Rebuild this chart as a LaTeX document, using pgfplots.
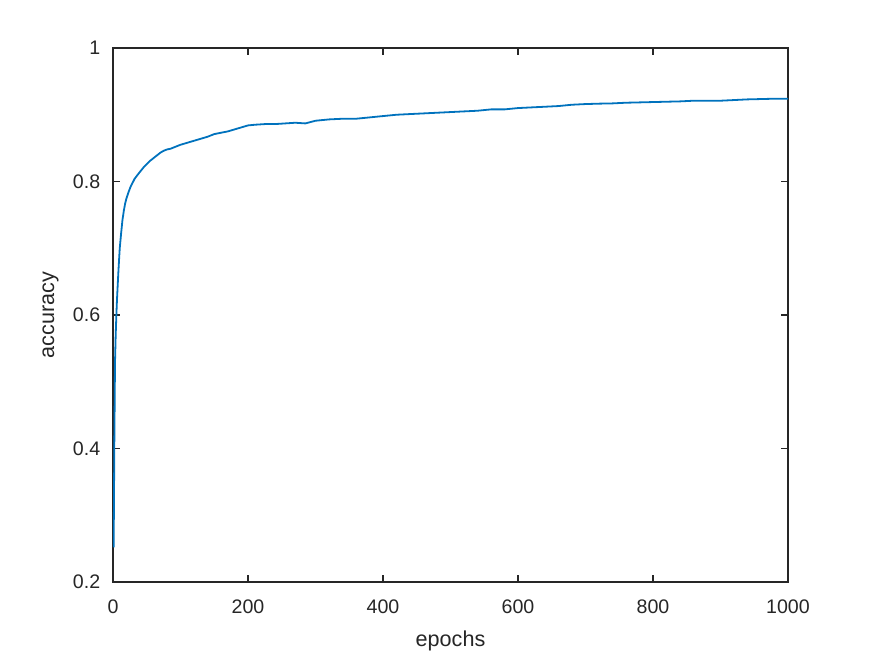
\documentclass[border=0pt]{standalone}
\usepackage{pgfplots}
\pgfplotsset{compat=1.18}
\usepackage{fontspec}
\setmainfont{Liberation Sans}
\definecolor{axgray}{HTML}{262626}
\definecolor{mblue}{HTML}{0072BD}
\begin{document}
\begin{tikzpicture}[font=\fontsize{9.8bp}{11.8bp}\selectfont]
\begin{axis}[
  name=ax,
  scale only axis,
  width=337.5bp, height=267bp,
  xmin=0, xmax=1000, ymin=0.2, ymax=1,
  xtick={0,200,...,1000},
  ytick={0.2,0.4,0.6,0.8,1},
  yticklabels={0.2,0.4,0.6,0.8,1},
  /pgf/number format/1000 sep={},
  /pgf/number format/assume math mode=true,
  tick align=inside,
  major tick length=3.4bp,
  axis line style={axgray, line width=0.8bp},
  every tick/.style={axgray, line width=0.8bp},
  tick label style={text=axgray},
  xticklabel style={yshift=-5.2bp},
  yticklabel style={xshift=-2.9bp},
  label style={text=axgray, font=\fontsize{10.8bp}{13bp}\selectfont},
  xlabel={epochs},
  ylabel={accuracy},
  xlabel style={at={(axis description cs:0.5,-0.0775)}, anchor=north},
  ylabel style={at={(axis description cs:-0.0702,0.5)}, rotate=0, anchor=south},
  clip=true,
]
\addplot[mblue, line width=0.9bp, mark=none] coordinates {
(1,0.252) (2,0.41) (3,0.53) (4,0.57) (5,0.60) (6,0.625) (7,0.645) (8,0.665)
(9,0.683) (10,0.70) (12,0.722) (14,0.742) (16,0.756) (18,0.767) (20,0.775)
(23,0.784) (26,0.792) (29,0.798) (32,0.804) (35,0.808) (38,0.812) (42,0.817)
(46,0.822) (50,0.826) (55,0.831) (60,0.835) (65,0.839) (70,0.843) (75,0.846)
(80,0.848) (85,0.849) (90,0.851) (95,0.853) (100,0.855) (110,0.858) (120,0.861)
(130,0.864) (140,0.867) (150,0.871) (160,0.873) (170,0.875) (180,0.878)
(190,0.881) (200,0.884) (210,0.885) (225,0.886) (240,0.886) (255,0.887)
(270,0.888) (285,0.887) (300,0.891) (320,0.893) (340,0.894) (360,0.894)
(380,0.896) (400,0.898) (420,0.900) (440,0.901) (460,0.902) (480,0.903)
(500,0.904) (520,0.905) (540,0.906) (560,0.908) (580,0.908) (600,0.910)
(620,0.911) (640,0.912) (660,0.913) (680,0.915) (700,0.916) (720,0.9166)
(740,0.917) (760,0.918) (780,0.9185) (800,0.919) (820,0.9195) (840,0.920)
(860,0.921) (880,0.921) (900,0.921) (920,0.922) (940,0.923) (960,0.9235)
(980,0.924) (1000,0.924)
};
\end{axis}
\pgfresetboundingbox
\path ([xshift=-56.5bp,yshift=-36bp]ax.south west) rectangle ([xshift=41.5bp,yshift=24bp]ax.north east);
\end{tikzpicture}
\end{document}
